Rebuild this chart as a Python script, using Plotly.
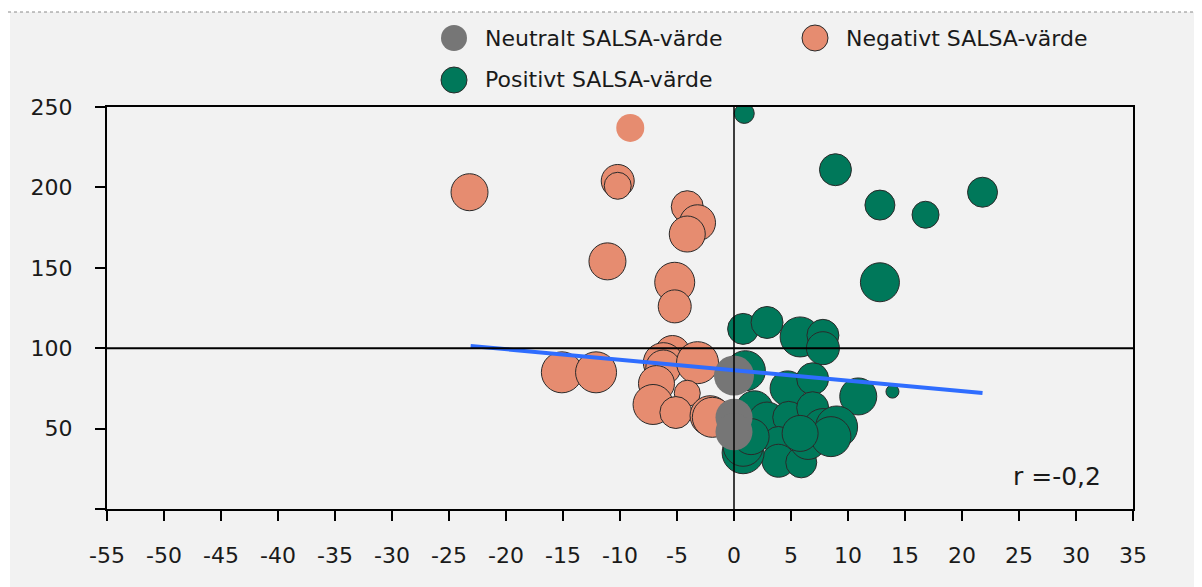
import plotly.graph_objects as go

# ---------------- data ----------------
neg_x = [-9.1, -23.2, -10.2, -10.2, -4.1, -3.2, -4.1, -11.1, -5.2, -5.2, -15.1, -12.1,
         -5.4, -6.2, -6.2, -3.2, -6.8, -7.1, -4.1, -5.1, -2.1, -1.9]
neg_y = [237, 197, 204, 201, 188, 178, 171, 154, 141, 126, 85, 85,
         97, 91, 88, 91, 78, 65, 72, 60, 58, 57]
neg_n = [28, 37, 33, 27, 32, 36, 36, 37, 40, 33, 41, 41,
         35, 40, 35, 42, 36, 40, 26, 32, 40, 40]

pos_x = [0.9, 8.9, 12.8, 16.8, 21.8, 12.8, 0.8, 2.9, 5.8, 7.8, 7.8, 1.0, 4.7, 6.9, 10.9, 13.9,
         1.8, 2.9, 4.8, 6.9, 7.8, 9.0, 3.9, 3.9, 5.9, 0.8, 0.8, 6.5, 8.5, 1.5, 5.8]
pos_y = [246, 211, 189, 183, 197, 141, 112, 116, 107, 108, 100, 86, 75, 81, 70, 73,
         62, 55, 57, 63, 50, 51, 42, 30, 29, 35, 39, 42, 45, 45, 47]
pos_n = [20, 32, 30, 27, 30, 39, 31, 32, 40, 32, 33, 40, 35, 32, 37, 13,
         37, 37, 32, 32, 40, 42, 30, 33, 31, 42, 40, 36, 40, 36, 36]

neu_x = [0, 0, 0]
neu_y = [83, 57, 48]
neu_n = [40, 37, 37]

trend_x = [-23.1, 21.8]
trend_y = [101.4, 72.1]

x_ticks = list(range(-55, 36, 5))
x_ticktext = [str(v) for v in x_ticks]
y_ticks = [0, 50, 100, 150, 200, 250]
y_ticktext = ["", "50", "100", "150", "200", "250"]

labels = ["Neutralt SALSA-värde", "Negativt SALSA-värde", "Positivt SALSA-värde"]
r_text = "r =-0,2"

# ---------------- style ----------------
FONT = "DejaVu Sans"
BG = "#f2f2f2"
C_NEU = "#767676"
C_NEG = "#e68c70"
C_POS = "#00785a"
C_TREND = "#2f6dff"
OUTLINE = "#2a2a2a"

OFF = 8  # page body margin
W, H = 1194, 579
# plot area on the page: x 107..1133, y 107..509
ML, MT = 107 - OFF, 107 - OFF
MR, MB = W - (1133 - OFF), H - (509 - OFF)
PW, PH = W - ML - MR, H - MT - MB


def px2paper_x(px):  # px in page coordinates
    return (px - OFF - ML) / PW


def px2paper_y(py):
    return (H - MB - (py - OFF)) / PH


fig = go.Figure()

neg_lw = [0] + [1] * (len(neg_x) - 1)
fig.add_trace(go.Scatter(
    x=neg_x, y=neg_y, mode="markers", showlegend=False, name=labels[1],
    marker=dict(size=neg_n, sizemode="diameter", color=C_NEG, opacity=1,
                line=dict(color=OUTLINE, width=neg_lw))))
fig.add_trace(go.Scatter(
    x=pos_x, y=pos_y, mode="markers", showlegend=False, name=labels[2],
    marker=dict(size=pos_n, sizemode="diameter", color=C_POS, opacity=1,
                line=dict(color=OUTLINE, width=1))))
fig.add_trace(go.Scatter(
    x=neu_x, y=neu_y, mode="markers", showlegend=False, name=labels[0],
    marker=dict(size=neu_n, sizemode="diameter", color=C_NEU, opacity=1,
                line=dict(width=0))))
fig.add_trace(go.Scatter(
    x=trend_x, y=trend_y, mode="lines", showlegend=False,
    line=dict(color=C_TREND, width=4)))

shapes = []
shapes.append(dict(type="rect", xref="paper", yref="paper", layer="below",
                   x0=px2paper_x(10), x1=px2paper_x(1215),
                   y0=px2paper_y(600), y1=px2paper_y(12),
                   fillcolor=BG, line=dict(width=0)))
shapes.append(dict(type="line", xref="paper", yref="paper", layer="above",
                   x0=px2paper_x(OFF), x1=px2paper_x(1215),
                   y0=px2paper_y(12), y1=px2paper_y(12),
                   line=dict(color="#8a8a8a", width=1, dash="dot")))
shapes.append(dict(type="line", xref="x", yref="y", layer="above",
                   x0=-55, x1=35, y0=100, y1=100,
                   line=dict(color="black", width=2)))
shapes.append(dict(type="line", xref="x", yref="y", layer="above",
                   x0=0, x1=0, y0=0, y1=250,
                   line=dict(color="black", width=1.5)))

leg_items = [(labels[0], C_NEU, 0, 454, 38),
             (labels[1], C_NEG, 1, 815, 38),
             (labels[2], C_POS, 1, 454, 80)]
annotations = []
for text, col, lw, cx, cy in leg_items:
    shapes.append(dict(type="circle", xref="paper", yref="paper",
                       xsizemode="pixel", ysizemode="pixel",
                       xanchor=px2paper_x(cx), yanchor=px2paper_y(cy),
                       x0=-13, x1=13, y0=-13, y1=13,
                       fillcolor=col, line=dict(color=OUTLINE, width=lw)))
    annotations.append(dict(xref="paper", yref="paper",
                            x=px2paper_x(cx + 29), y=px2paper_y(cy),
                            xanchor="left", yanchor="middle", showarrow=False,
                            text=text, font=dict(family=FONT, size=22, color="#1a1a1a")))

annotations.append(dict(xref="x", yref="y", x=32.4, y=20, xanchor="right",
                        yanchor="middle", showarrow=False, text=r_text,
                        font=dict(family=FONT, size=25, color="#1a1a1a")))

fig.update_layout(
    width=W, height=H,
    margin=dict(l=ML, r=MR, t=MT, b=MB, pad=0),
    paper_bgcolor="white", plot_bgcolor=BG,
    font=dict(family=FONT, size=22, color="#1a1a1a"),
    shapes=shapes, annotations=annotations,
    showlegend=False,
    xaxis=dict(range=[-55, 35], tickvals=x_ticks, ticktext=x_ticktext,
               showgrid=False, zeroline=False,
               showline=True, linecolor="black", linewidth=2, mirror=True,
               ticks="outside", ticklen=10, tickwidth=1.5, tickcolor="black",
               ticklabelstandoff=16, tickfont=dict(family=FONT, size=22)),
    yaxis=dict(range=[0, 250], tickvals=y_ticks, ticktext=y_ticktext,
               showgrid=False, zeroline=False,
               showline=True, linecolor="black", linewidth=2, mirror=True,
               ticks="outside", ticklen=10, tickwidth=1.5, tickcolor="black",
               ticklabelstandoff=18, tickfont=dict(family=FONT, size=22)),
)

fig.write_html("out.html")
